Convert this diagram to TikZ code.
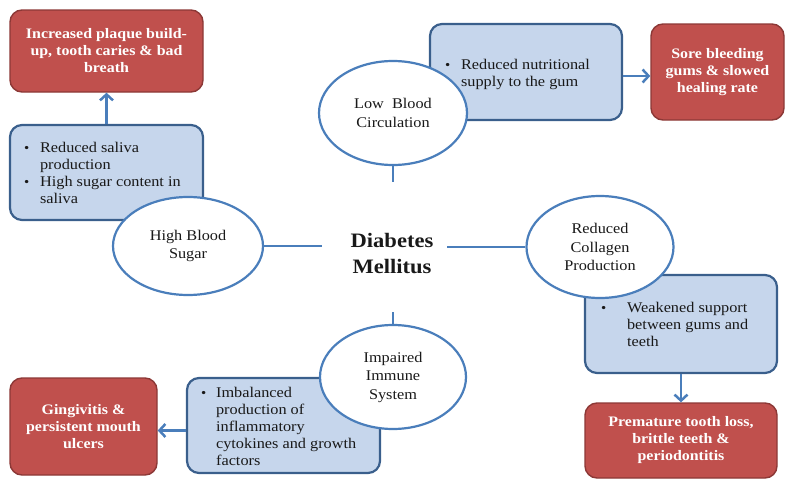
\documentclass[tikz,border=0pt]{standalone}
\usepackage{fontspec}
\setmainfont{Liberation Serif}[FakeStretch=1.1]
\usetikzlibrary{shapes.geometric,arrows.meta}
\definecolor{ellblue}{HTML}{4A7EBB}
\definecolor{bfill}{HTML}{C6D6EC}
\definecolor{bdraw}{HTML}{3A5F8C}
\definecolor{rfill}{HTML}{C0504D}
\definecolor{rdraw}{HTML}{8C3836}
\newcommand{\bul}{\raisebox{0pt}{\fontsize{13.5}{13.5}\selectfont\textbullet}}
\tikzset{
  every node/.style={font=\fontsize{14.8}{17}\selectfont, text=black!90},
  bbox/.style={draw=bdraw, fill=bfill, line width=2.2pt, rounded corners=12pt, inner sep=0pt},
  btext/.style={anchor=west, inner sep=0pt},
  rbox/.style={draw=rdraw, fill=rfill, line width=1.4pt, rounded corners=12pt, inner sep=0pt,
    align=center, text=white, font=\fontsize{14.5}{17}\selectfont\bfseries},
  ell/.style={ellipse, draw=ellblue, fill=white, line width=2.2pt, inner sep=0pt, align=center,
    font=\fontsize{14.8}{18.5}\selectfont},
  conn/.style={draw=ellblue, line width=2.5pt},
  arr/.style={draw=ellblue, line width=2.5pt, -{Straight Barb[length=6pt,width=13pt]}}
}
\begin{document}
\begin{tikzpicture}[x=1pt,y=-1pt]
\useasboundingbox (0,0) rectangle (790,482);
% blue boxes
\node[bbox, minimum width=193, minimum height=95] (B1) at (106.5,172.5) {};
\node[btext] (T1) at ([xshift=15pt,yshift=-2.5pt]B1.west) {\begin{tabular}{@{}p{16pt}@{}l@{}}
\bul & Reduced saliva\\ & production\\ \bul & High sugar content in\\ & saliva\end{tabular}};
\node[bbox, minimum width=192, minimum height=96] (B2) at (526,72) {};
\node[btext] (T2) at ([xshift=16pt,yshift=-2.5pt]B2.west) {\begin{tabular}{@{}p{16pt}@{}l@{}}
\bul & Reduced nutritional\\ & supply to the gum\end{tabular}};
\node[bbox, minimum width=192, minimum height=98] (B3) at (681,324) {};
\node[btext] (T3) at ([xshift=17pt,yshift=-2pt]B3.west) {\begin{tabular}{@{}p{26pt}@{}l@{}}
\bul & Weakened support\\ & between gums and\\ & teeth\end{tabular}};
\node[bbox, minimum width=193, minimum height=95] (B4) at (283.5,425.5) {};
\node[btext] (T4) at ([xshift=15pt,yshift=-2.5pt]B4.west) {\begin{tabular}{@{}p{15pt}@{}l@{}}
\bul & Imbalanced\\ & production of\\ & inflammatory\\ & cytokines and growth\\ & factors\end{tabular}};
% ellipses
\node[ell, minimum width=150, minimum height=98] (HBS) at (188,246) {High Blood\\Sugar};
\node[ell, minimum width=148, minimum height=104] (LBC) at (393,113) {Low~ Blood\\Circulation};
\node[ell, minimum width=147, minimum height=102] (RCP) at (600,247) {Reduced\\Collagen\\Production};
\node[ell, minimum width=146, minimum height=104] (IIS) at (393,377) {Impaired\\Immune\\System};
% centre
\node[font=\fontsize{20.5}{26}\selectfont\bfseries, align=center, inner sep=0pt] (DM) at (392,254) {Diabetes\\Mellitus};
\coordinate (dmW) at (322,246);
\coordinate (dmE) at (447,247);
\coordinate (dmN) at (393,182);
\coordinate (dmS) at (393,312);
\draw[conn] (HBS.east) -- (dmW);
\draw[conn] (dmE) -- (RCP.west);
\draw[conn] (LBC.south) -- (dmN);
\draw[conn] (dmS) -- (IIS.north);
% red boxes
\node[rbox, minimum width=193, minimum height=82] (R1) at (106.5,51) {Increased plaque build-\\up, tooth caries \& bad\\breath};
\node[rbox, minimum width=133, minimum height=96] (R2) at (717.5,72) {Sore bleeding\\gums \& slowed\\healing rate};
\node[rbox, minimum width=192, minimum height=75] (R3) at (681,440.5) {Premature tooth loss,\\brittle teeth \&\\periodontitis};
\node[rbox, minimum width=147, minimum height=97] (R4) at (83.5,426.5) {Gingivitis \&\\persistent mouth\\ulcers};
% arrows
\draw[arr] (B1.north) -- (R1.south);
\draw[arr] ([yshift=-4pt]B2.east) -- ([yshift=-4pt]R2.west);
\draw[arr] (B3.south) -- (R3.north);
\draw[arr] ([yshift=-5pt]B4.west) -- ([yshift=-5pt]B4.west -| R4.east);
\end{tikzpicture}
\end{document}
